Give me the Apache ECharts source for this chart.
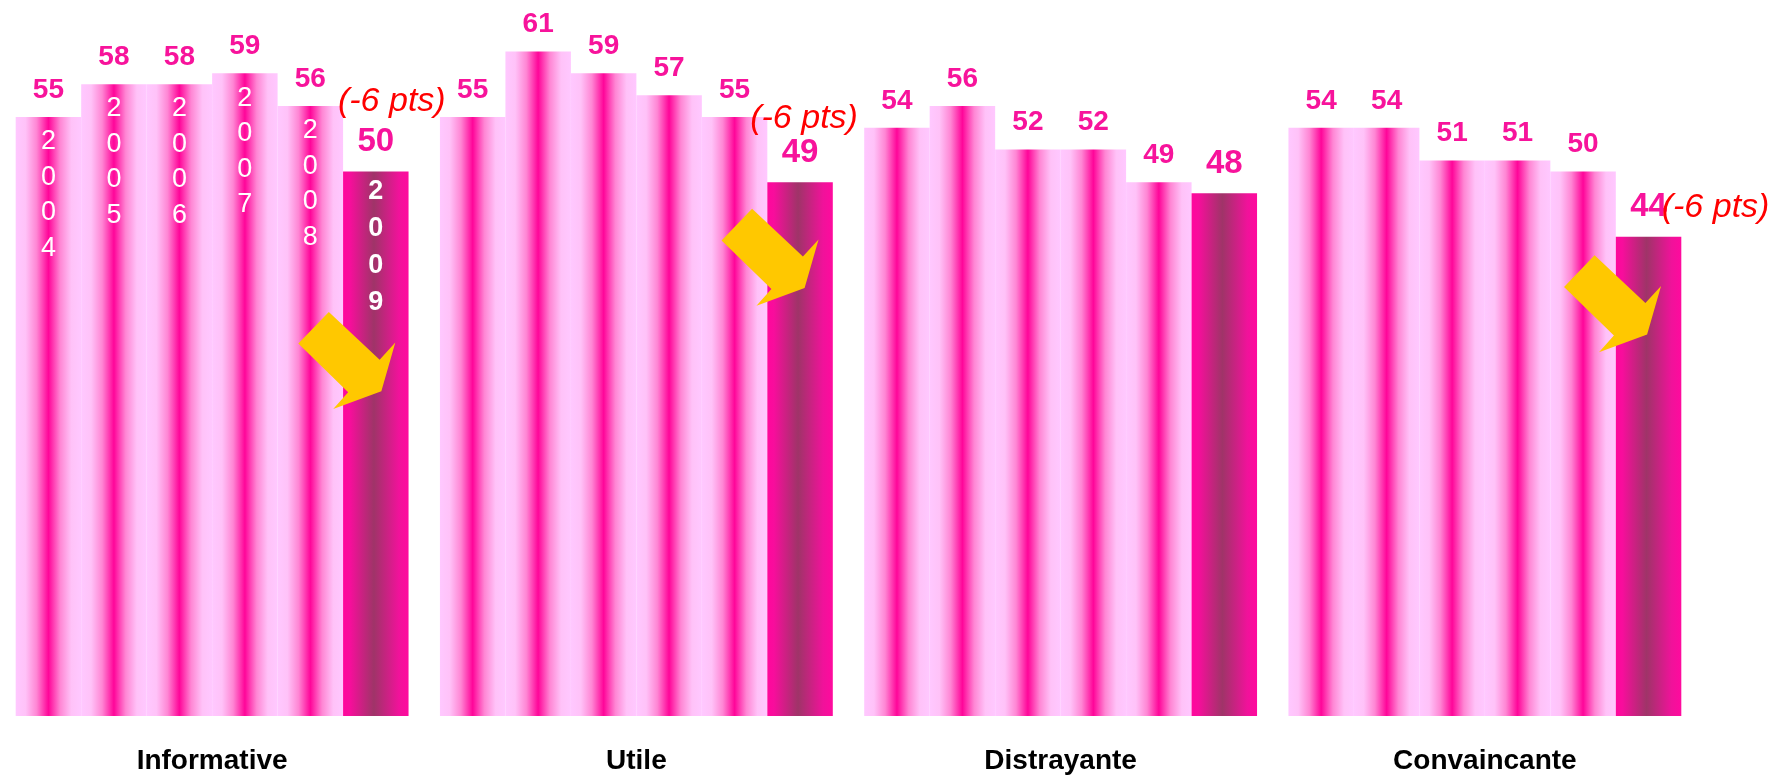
<!DOCTYPE html>
<html>
<head>
<meta charset="utf-8">
<script src="https://cdn.jsdelivr.net/npm/echarts@6/dist/echarts.min.js"></script>
<style>
html,body{margin:0;padding:0;background:#fff;}
#chart{width:1786px;height:780px;}
</style>
</head>
<body>
<div id="chart"></div>
<script>
// ---- data ----
const categories = ['Informative', 'Utile', 'Distrayante', 'Convaincante'];
const years = ['2004', '2005', '2006', '2007', '2008', '2009'];
const v2004 = [55, 55, 54, 54];
const v2005 = [58, 61, 56, 54];
const v2006 = [58, 59, 52, 51];
const v2007 = [59, 57, 52, 51];
const v2008 = [56, 55, 49, 50];
const v2009 = [50, 49, 48, 44];
const seriesValues = [v2004, v2005, v2006, v2007, v2008, v2009];
const noteCats = ['Informative', 'Utile', 'Convaincante'];
const noteTexts = ['(-6 pts)', '(-6 pts)', '(-6 pts)'];

// ---- styling / layout (not data) ----
const FONT = "'Liberation Sans', Arial, sans-serif";
const PINK_TEXT = '#F7139B';
const noteTextOffsets = [[16, -70], [4, -64], [67, -29]];
const arrowOffsets = [[-29, 189], [-30, 75], [-36, 67]];
const ARROW_PATH = 'path://M0,31.6 L30.6,0 L81.6,47.6 L97.3,30.6 L83.3,79 L35,96.6 L50,80 Z';

const lightGrad = {
  type: 'linear', x: 0, y: 0, x2: 1, y2: 0,
  colorStops: [
    {offset: 0, color: '#FFC8FF'},
    {offset: 0.15, color: '#FFC2F8'},
    {offset: 0.32, color: '#FF86D4'},
    {offset: 0.5, color: '#FF0599'},
    {offset: 0.68, color: '#FF86D4'},
    {offset: 0.85, color: '#FFC2F8'},
    {offset: 1, color: '#FFC8FF'}
  ]
};
const darkGrad = {
  type: 'linear', x: 0, y: 0, x2: 1, y2: 0,
  colorStops: [
    {offset: 0, color: '#FF079C'},
    {offset: 0.1, color: '#F80D9C'},
    {offset: 0.47, color: '#9F3468'},
    {offset: 0.85, color: '#F0129A'},
    {offset: 1, color: '#FF0A9E'}
  ]
};

const series = [];
seriesValues.forEach((vals, i) => {
  const last = i === seriesValues.length - 1;
  const s = {
    name: years[i],
    type: 'bar',
    xAxisIndex: 0,
    data: vals,
    barGap: '0%',
    barCategoryGap: '7.4%',
    silent: true,
    itemStyle: {color: last ? darkGrad : lightGrad},
    label: {
      show: true,
      position: 'top',
      distance: last ? 13 : 13,
      fontFamily: FONT,
      fontWeight: 'bold',
      fontSize: last ? 33 : 28,
      color: PINK_TEXT
    }
  };
  if (last) {
    const mp = [];
    noteCats.forEach((c, k) => {
      const idx = categories.indexOf(c);
      mp.push({
        coord: [c, vals[idx]],
        symbol: ARROW_PATH,
        symbolSize: [97, 97],
        symbolOffset: arrowOffsets[k],
        itemStyle: {color: '#FFC800'},
        label: {show: false}
      });
      mp.push({
        coord: [c, vals[idx]],
        symbol: 'circle',
        symbolSize: 1,
        itemStyle: {color: 'rgba(0,0,0,0)'},
        label: {
          show: true,
          position: 'inside',
          offset: noteTextOffsets[k],
          formatter: noteTexts[k],
          color: '#FF0000',
          fontStyle: 'italic',
          fontFamily: FONT,
          fontSize: 34
        }
      });
    });
    s.markPoint = {silent: true, animation: false, data: mp};
  }
  series.push(s);
});

// year labels (only first category), drawn with transparent twin bars on a hidden twin axis
seriesValues.forEach((vals, i) => {
  const last = i === seriesValues.length - 1;
  series.push({
    name: years[i] + '-label',
    type: 'bar',
    xAxisIndex: 1,
    data: vals,
    barGap: '0%',
    barCategoryGap: '7.4%',
    silent: true,
    z: 3,
    itemStyle: {color: 'rgba(0,0,0,0)'},
    label: {
      show: true,
      position: 'insideTop',
      distance: last ? 2 : 7,
      fontFamily: FONT,
      fontSize: 27,
      fontWeight: last ? 'bold' : 'normal',
      lineHeight: last ? 37 : 35.5,
      color: '#FFFFFF',
      formatter: p => p.dataIndex === 0 ? years[i].split('').join('\n') : ''
    }
  });
});

const chart = echarts.init(document.getElementById('chart'), null, {renderer: 'canvas'});
chart.setOption({
  animation: false,
  backgroundColor: '#FFFFFF',
  grid: {left: 0, right: 89, top: 8, bottom: 64, containLabel: false},
  xAxis: [{
    type: 'category',
    data: categories,
    axisLine: {show: false},
    axisTick: {show: false},
    axisLabel: {
      margin: 31,
      fontFamily: FONT,
      fontWeight: 'bold',
      fontSize: 28,
      color: '#000000'
    }
  }, {
    type: 'category',
    data: categories,
    show: false
  }],
  yAxis: {
    type: 'value',
    min: 0,
    max: 65,
    show: false,
    splitLine: {show: false}
  },
  series: series
});
</script>
</body>
</html>
